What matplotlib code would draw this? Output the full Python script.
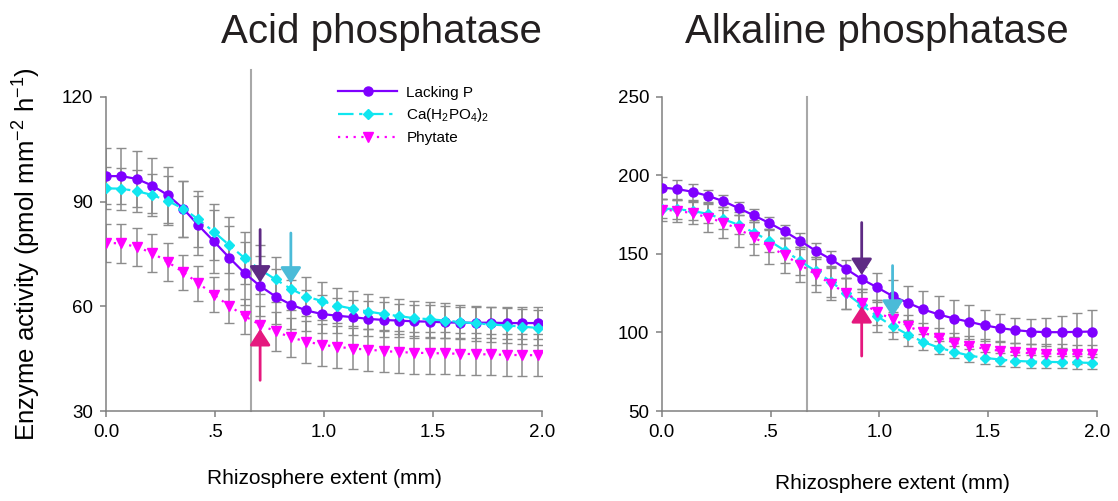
import matplotlib
matplotlib.use("Agg")
import matplotlib.pyplot as plt

plt.rcParams['font.family'] = ['Liberation Sans', 'DejaVu Sans']
plt.rcParams['mathtext.default'] = 'regular'

# rhizosphere distance (mm), same grid for both enzymes
distancia = [0, 0.071, 0.141, 0.212, 0.283, 0.354, 0.424, 0.495, 0.566, 0.636,
             0.707, 0.778, 0.848, 0.919, 0.990, 1.061, 1.131, 1.202, 1.273, 1.343,
             1.414, 1.485, 1.556, 1.626, 1.697, 1.768, 1.838, 1.909, 1.980]

serieNomes = ["Lacking P", "Ca(H$_2$PO$_4$)$_2$", "Phytate"]

# acid phosphatase
acidLacking = [97.3, 97.3, 96.5, 94.6, 91.9, 88.0, 83.2, 78.6, 73.9, 69.5,
               65.8, 62.8, 60.5, 58.8, 57.8, 57.3, 56.9, 56.4, 56.1, 55.9,
               55.7, 55.6, 55.4, 55.3, 55.3, 55.3, 55.2, 55.2, 55.2]
acidCa = [93.8, 93.7, 93.0, 91.9, 90.2, 88.0, 84.9, 81.3, 77.5, 73.8,
          70.5, 67.7, 65.0, 62.8, 61.5, 60.2, 59.3, 58.5, 57.8, 57.2,
          56.6, 56.3, 55.9, 55.5, 55.1, 54.8, 54.5, 54.2, 53.8]
acidPhytate = [78.2, 78.0, 77.0, 75.3, 72.7, 69.8, 66.6, 63.3, 60.1, 57.2,
               54.7, 52.8, 51.1, 49.9, 49.0, 48.4, 47.9, 47.6, 47.2, 46.9,
               46.7, 46.6, 46.5, 46.4, 46.3, 46.2, 46.1, 46.0, 46.0]
acidLackingErr = [8, 8, 8, 8, 8, 8, 8.5, 9, 9, 9, 8.5, 8, 7, 6, 5.5, 5, 5, 5, 5,
                  4.8, 4.8, 4.7, 4.6, 4.5, 4.5, 4.5, 4.5, 4.5, 4.5]
acidCaErr = [6, 6, 6, 6, 7, 8, 8, 8, 8, 7.5, 7, 6.5, 6, 5.5, 5.5, 5, 5, 5, 5,
             5, 5, 5, 5, 5, 5, 5, 5, 5, 5]
acidPhytateErr = [5.5, 5.5, 5.5, 5.5, 5.5, 5, 5, 5, 5, 5, 5.5, 5.5, 5.5, 6, 6,
                  6, 6, 6, 6, 6, 6, 6, 6, 6, 6, 6, 6, 6, 6]

# alkaline phosphatase
alkLacking = [192.3, 191.3, 189.6, 187.0, 183.6, 179.1, 174.5, 169.6, 164.3, 158.3,
              152.1, 146.6, 140.4, 134.0, 128.7, 123.2, 118.9, 114.7, 111.5, 108.9,
              106.8, 104.5, 102.8, 101.5, 100.6, 100.2, 100.2, 100.4, 100.6]
alkCa = [178.9, 178.5, 177.4, 175.5, 172.1, 168.5, 163.6, 158.3, 152.1, 145.5,
         139.1, 132.3, 124.9, 117.4, 110.4, 104.0, 98.7, 94.0, 90.4, 87.7,
         85.3, 83.8, 82.8, 81.9, 81.5, 81.3, 81.1, 80.9, 80.6]
alkPhytate = [178.3, 177.4, 176.0, 173.2, 170.0, 165.7, 160.6, 154.7, 149.1, 143.2,
              137.0, 130.9, 124.9, 118.9, 113.0, 108.3, 104.0, 100.0, 96.6, 93.6,
              91.5, 89.6, 88.3, 87.4, 86.8, 86.6, 86.4, 86.2, 86.2]
alkLackingErr = [7, 6, 5, 4, 4, 4, 4, 4, 4, 5, 5, 5, 6, 8, 9, 10, 11, 12, 12, 12,
                 11, 10, 9, 8, 8, 9, 10, 12, 14]
alkCaErr = [6, 6, 6, 6, 6, 6, 7, 7, 8, 9, 9, 10, 10, 10, 10, 8, 7, 5, 4, 4,
            4, 4, 4, 4, 4, 4, 4, 4, 4]
alkPhytateErr = [7, 7, 7, 9, 10, 11, 11, 11, 11, 11, 11, 10, 10, 9, 8, 8, 7, 6,
                 6, 6, 6, 6, 6, 6, 6, 6, 6, 6, 6]

# arrows: (x, tail, tip) per series
acidSetas = [(0.707, 82, 66.8), (0.848, 81, 66.5), (0.707, 38.8, 53.5)]
alkSetas = [(0.919, 170, 136.6), (1.061, 142.6, 110), (0.919, 85, 116.8)]

linhaVertical = 0.667

lineColors = ["#7f00ff", "#10e6f0", "#ff00ff"]
arrowColors = ["#5e2a84", "#4bbbd8", "#e5187e"]
estilos = ["-", (0, (7, 2.5, 1.5, 2.5)), (0, (1, 2.5))]
marcadores = [("o", 6.5), ("D", 5.5), ("v", 7)]


def criaPainel(ax, series, erros, setas, yticks, topoLinha, xlabelPos):
    linhas = []
    for i in range(3):
        ax.errorbar(distancia, series[i], yerr=erros[i], fmt="none", ecolor="#8c8c8c",
                    elinewidth=1.1, capsize=3.5, capthick=1.0, zorder=1)
    for i in range(3):
        m, ms = marcadores[i]
        l, = ax.plot(distancia, series[i], color=lineColors[i], linestyle=estilos[i],
                     linewidth=1.6, marker=m, markersize=ms, label=serieNomes[i], zorder=3)
        linhas.append(l)

    ax.axvline(linhaVertical, ymin=0, ymax=topoLinha, color="#a8a8a8", linewidth=1.5,
               clip_on=False, zorder=0)

    for i, (x, cauda, ponta) in enumerate(setas):
        ax.annotate("", xy=(x, ponta), xytext=(x, cauda),
                    arrowprops=dict(arrowstyle="-|>,head_length=0.65,head_width=0.42",
                                    color=arrowColors[i], lw=2.0, mutation_scale=15,
                                    shrinkA=0, shrinkB=0), zorder=4)

    ax.set_xlim(0, 2.0)
    ax.set_ylim(yticks[0], yticks[-1])
    ax.set_yticks(yticks)
    ax.set_xticks([0, 0.5, 1.0, 1.5, 2.0])
    ax.set_xticklabels(["0.0", ".5", "1.0", "1.5", "2.0"])
    for s in ["top", "right"]:
        ax.spines[s].set_visible(False)
    for s in ["left", "bottom"]:
        ax.spines[s].set_color("#808080")
        ax.spines[s].set_linewidth(1.1)
    ax.tick_params(direction="out", length=4, width=1.1, color="#808080",
                   labelsize=13.5, pad=5)
    ax.set_xlabel("Rhizosphere extent (mm)", fontsize=15)
    ax.xaxis.set_label_coords(*xlabelPos)
    return linhas


fig = plt.figure(figsize=(11.18, 5.01), dpi=100)
axAcid = fig.add_axes([0.0948, 0.1796, 0.39, 0.627])
axAlk = fig.add_axes([0.592, 0.1796, 0.389, 0.627])

linhas = criaPainel(axAcid, [acidLacking, acidCa, acidPhytate],
                    [acidLackingErr, acidCaErr, acidPhytateErr],
                    acidSetas, [30, 60, 90, 120], 1.086, (0.5, -0.185))
criaPainel(axAlk, [alkLacking, alkCa, alkPhytate],
           [alkLackingErr, alkCaErr, alkPhytateErr],
           alkSetas, [50, 100, 150, 200, 250], 1.0, (0.53, -0.2))

axAcid.set_ylabel("Enzyme activity (pmol mm$^{-2}$ h$^{-1}$)", fontsize=18.5)
axAcid.yaxis.set_label_coords(-0.145, 0.5)

axAcid.legend(handles=linhas, loc="upper left", bbox_to_anchor=(0.5, 1.08),
              frameon=False, fontsize=11, handlelength=3.9, labelspacing=0.45,
              handletextpad=0.6)

fig.text(0.341, 0.936, "Acid phosphatase", fontsize=29, color="#231f20",
         ha="center", va="center")
fig.text(0.784, 0.936, "Alkaline phosphatase", fontsize=29, color="#231f20",
         ha="center", va="center")

fig.savefig("out.png", dpi=100)
